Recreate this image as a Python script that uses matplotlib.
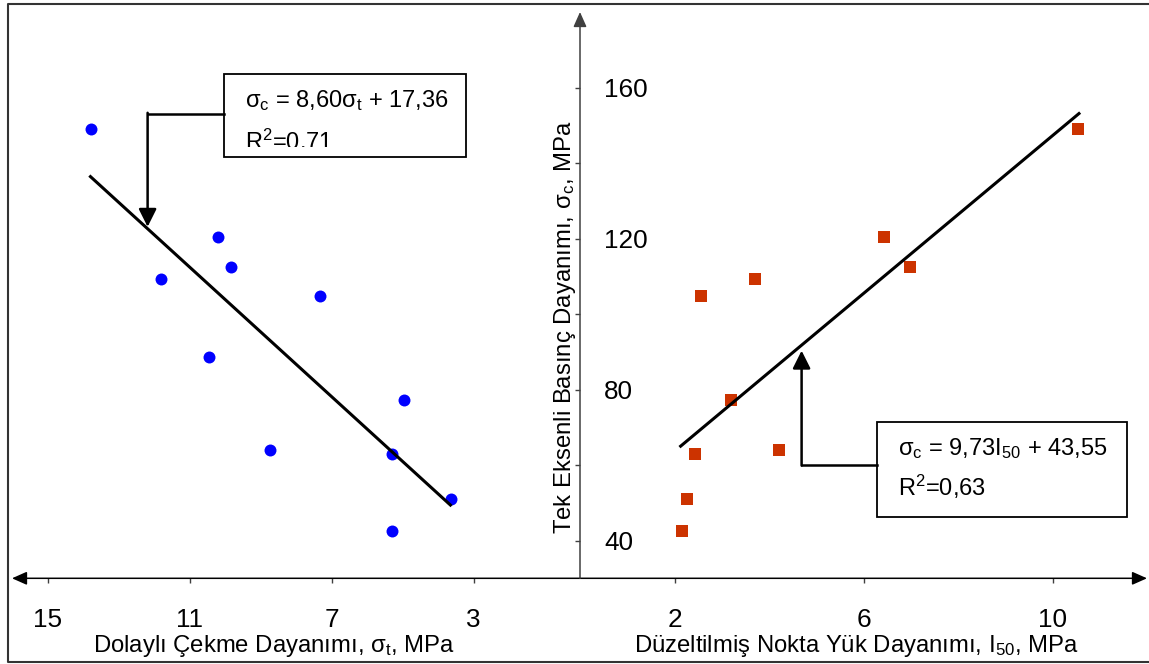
import matplotlib.pyplot as plt
import matplotlib as mpl
from matplotlib.lines import Line2D
from matplotlib.patches import Rectangle

mpl.rcParams['font.family'] = ['Liberation Sans', 'DejaVu Sans']
mpl.rcParams['mathtext.fontset'] = 'custom'
mpl.rcParams['mathtext.rm'] = 'Liberation Sans'
mpl.rcParams['mathtext.it'] = 'Liberation Sans:italic'
mpl.rcParams['mathtext.bf'] = 'Liberation Sans:bold'

# indirect tensile strength vs UCS (left panel)
sigma_t = [13.77, 11.79, 10.21, 9.82, 10.44, 7.33, 8.74, 4.96, 5.30, 5.30, 3.64]
ucs_t = [148.9, 109.3, 120.4, 112.4, 88.6, 104.8, 64.0, 77.3, 62.9, 42.5, 50.9]
fit_t_x = [13.79, 3.65]
fit_t_y = [136.4, 49.4]

# corrected point load index vs UCS (right panel)
i50 = [2.15, 2.26, 2.43, 2.56, 3.20, 3.70, 4.21, 6.43, 6.98, 10.54]
ucs_i = [42.5, 50.9, 62.8, 104.8, 77.3, 109.3, 64.0, 120.4, 112.4, 148.9]
fit_i_x = [2.13, 10.56]
fit_i_y = [65.0, 153.1]

left_ticks = [15, 11, 7, 3]
right_ticks = [2, 6, 10]
y_ticks = [40, 60, 80, 100, 120, 140, 160]
y_labels = ['40', '', '80', '', '120', '', '160']

eq_t = r'σ$_\mathrm{c}$ = 8,60σ$_\mathrm{t}$ + 17,36'
r2_t = r'R$^\mathrm{2}$=0.71'
eq_i = r'σ$_\mathrm{c}$ = 9,73I$_\mathrm{50}$ + 43,55'
r2_i = r'R$^\mathrm{2}$=0,63'

W, H = 1149, 664
fig = plt.figure(figsize=(W / 100, H / 100), dpi=100)
bottom = (H - 578.3) / H
height = 566.3 / H
axl = fig.add_axes([12 / W, bottom, 568 / W, height])
axr = fig.add_axes([580 / W, bottom, 567 / W, height])

axis_col = '#404040'
for ax in (axl, axr):
    for s in ax.spines.values():
        s.set_visible(False)
    ax.set_ylim(30, 180)
    ax.patch.set_alpha(0)
axl.set_xlim(16, 0)
axr.set_xlim(0, 12)

# axis lines with arrows
arr = dict(arrowstyle='-|>,head_length=0.45,head_width=0.2', color='black', lw=1.1,
           shrinkA=0, shrinkB=0, mutation_scale=20)
axl.annotate('', xy=(0, 0), xytext=(1, 0), xycoords='axes fraction', arrowprops=arr, annotation_clip=False)
axr.annotate('', xy=(1, 0), xytext=(0, 0), xycoords='axes fraction', arrowprops=arr, annotation_clip=False)
axr.annotate('', xy=(0, 1), xytext=(0, 0), xycoords='axes fraction',
             arrowprops=dict(arr, color=axis_col), annotation_clip=False)

# ticks
axl.set_xticks(left_ticks)
axl.set_yticks([])
axr.set_xticks(right_ticks)
axr.set_yticks(y_ticks)
axr.set_yticklabels(y_labels)
for ax in (axl, axr):
    ax.tick_params(axis='x', direction='out', length=3.8, width=1, color=axis_col,
                   labelsize=18.8, pad=17.3)
axr.tick_params(axis='y', direction='out', length=3.8, width=1, color=axis_col,
                labelsize=18.8, pad=-21)
for t in axr.yaxis.get_major_ticks():
    t.label1.set_horizontalalignment('left')

# data
axl.plot(sigma_t, ucs_t, 'o', color='#0000FF', markersize=8.6, markeredgewidth=0, clip_on=False)
axl.plot(fit_t_x, fit_t_y, '-', color='black', lw=2.2)
axr.plot(i50, ucs_i, 's', color='#CC3300', markersize=8.6, markeredgewidth=0, clip_on=False)
axr.plot(fit_i_x, fit_i_y, '-', color='black', lw=2.2)

# axis labels
axl.set_xlabel(r'Dolaylı Çekme Dayanımı, σ$_\mathrm{t}$, MPa', fontsize=17.2)
axl.xaxis.set_label_coords(0.462, -0.097)
axr.set_xlabel(r'Düzeltilmiş Nokta Yük Dayanımı, I$_\mathrm{50}$, MPa', fontsize=17.2)
axr.xaxis.set_label_coords(0.4868, -0.097)
axr.set_ylabel(r'Tek Eksenli Basınç Dayanımı, σ$_\mathrm{c}$, MPa', fontsize=17.2)
axr.yaxis.set_label_coords(-0.003, 0.4438)

# equation callouts
head = dict(arrowstyle='-|>,head_length=0.54,head_width=0.27', color='black', lw=1.8,
            shrinkA=0, shrinkB=0, mutation_scale=20)

box_l = Rectangle((10.04, 141.6), 3.22 - 10.04, 163.6 - 141.6, fill=False, ec='black', lw=1.3,
                  clip_on=False)
axl.add_patch(box_l)
axl.plot([10.04, 12.18], [153.0, 153.0], color='black', lw=1.8, clip_on=False)
axl.annotate('', xy=(12.18, 123.1), xytext=(12.18, 153.3), arrowprops=head)
axl.text(9.45, 154.7, eq_t, fontsize=17, va='baseline', ha='left')
r2 = axl.text(9.45, 143.4, r2_t, fontsize=17, va='baseline', ha='left')
clip_l = Rectangle((10.04, 144.2), 3.22 - 10.04, 20, transform=axl.transData)
r2.set_clip_on(True)
r2.set_clip_path(clip_l)

box_r = Rectangle((6.28, 46.2), 11.57 - 6.28, 71.3 - 46.2, fill=False, ec='black', lw=1.3,
                  clip_on=False)
axr.add_patch(box_r)
axr.plot([6.28, 4.69], [60.1, 60.1], color='black', lw=1.8, clip_on=False)
axr.annotate('', xy=(4.69, 90.3), xytext=(4.69, 59.85), arrowprops=head)
axr.text(6.73, 62.65, eq_i, fontsize=17, va='baseline', ha='left')
axr.text(6.73, 51.9, r2_i, fontsize=17, va='baseline', ha='left')

# outer frame
frame = Line2D([1200 / W, 8 / W, 8 / W, 1200 / W], [1 - 4 / H, 1 - 4 / H, 1 - 661.7 / H, 1 - 661.7 / H],
               transform=fig.transFigure, color='#333333', lw=1.5)
fig.add_artist(frame)

fig.savefig('out.png', dpi=100)
